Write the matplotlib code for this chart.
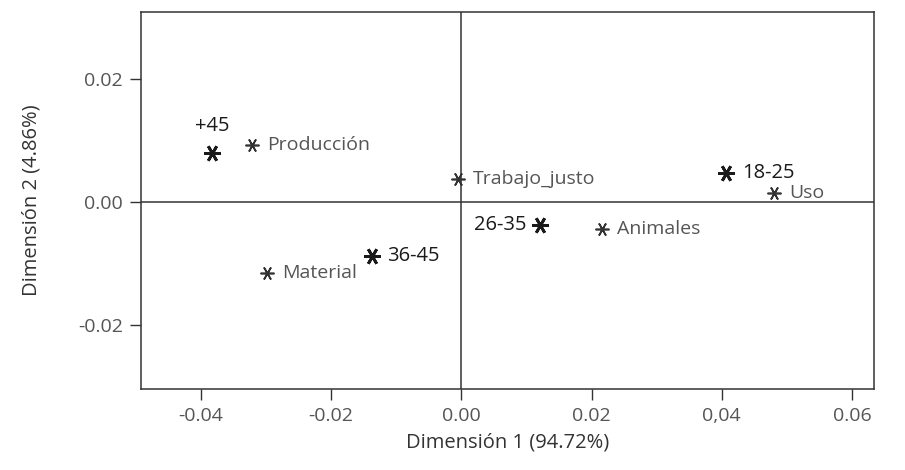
import matplotlib
matplotlib.use("Agg")
import matplotlib.pyplot as plt

plt.rcParams['font.family'] = ['Open Sans', 'DejaVu Sans']

# age groups (rows)
edades = ["+45", "36-45", "26-35", "18-25"]
edad_x = [-0.0383, -0.0137, 0.0121, 0.0406]
edad_y = [0.0079, -0.0087, -0.0037, 0.0047]

# motives (columns)
motivos = ["Producción", "Trabajo_justo", "Material", "Animales", "Uso"]
motivo_x = [-0.0321, -0.0005, -0.0298, 0.0216, 0.0480]
motivo_y = [0.0092, 0.0038, -0.0115, -0.0043, 0.0014]

xticks = [-0.04, -0.02, 0.00, 0.02, 0.04, 0.06]
xticklabels = ["-0.04", "-0.02", "0.00", "0.02", "0,04", "0.06"]
yticks = [-0.02, 0.00, 0.02]
yticklabels = ["-0.02", "0.00", "0.02"]

fig = plt.figure(figsize=(9.05, 4.7), dpi=100)
ax = fig.add_axes([0.1558, 0.1723, 0.81, 0.8022])

ax.axhline(0, color="#333333", lw=1.1, zorder=1)
ax.axvline(0, color="#333333", lw=1.1, zorder=1)

star = (6, 2, 90)
ax.plot(motivo_x, motivo_y, ls="none", marker=star, ms=10, mew=1.2,
        color="#333333", zorder=3)
ax.plot(edad_x, edad_y, ls="none", marker=star, ms=12, mew=2.0,
        color="#1a1a1a", zorder=3)

# etiquetas
for name, x, y in zip(motivos, motivo_x, motivo_y):
    ax.annotate(name, (x, y), xytext=(11, 0), textcoords="offset points",
                ha="left", va="center", fontsize=14, color="#555555")

lab_off = {"+45": (0, 20, "center"), "36-45": (11, 0, "left"),
           "26-35": (-10, 0, "right"), "18-25": (12, 0, "left")}
for name, x, y in zip(edades, edad_x, edad_y):
    dx, dy, ha = lab_off[name]
    ax.annotate(name, (x, y), xytext=(dx, dy), textcoords="offset points",
                ha=ha, va="center", fontsize=14.5, color="#1a1a1a")

ax.set_xlim(-0.0492, 0.0634)
ax.set_ylim(-0.0303, 0.0308)
ax.set_xticks(xticks)
ax.set_xticklabels(xticklabels)
ax.set_yticks(yticks)
ax.set_yticklabels(yticklabels)
ax.tick_params(labelsize=14, colors="#333333", labelcolor="#555555",
               length=8, width=1.0, pad=5)

for sp in ax.spines.values():
    sp.set_color("#333333")
    sp.set_linewidth(1.1)

ax.set_xlabel("Dimensión 1 (94.72%)", fontsize=14.5, color="#333333", labelpad=5)
ax.set_ylabel("Dimensión 2 (4.86%)", fontsize=14.5, color="#333333", labelpad=26)

plt.savefig("out.png", dpi=100)
plt.close()
